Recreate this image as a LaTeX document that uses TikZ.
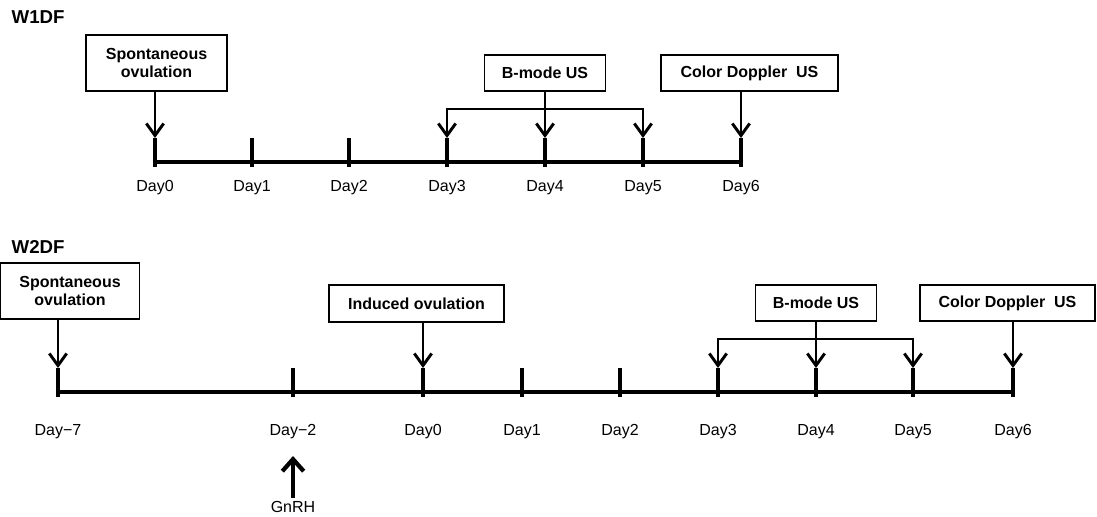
\documentclass[tikz,border=0pt]{standalone}
\usepackage{fontspec}
\setmainfont{Liberation Sans}
\usetikzlibrary{arrows.meta}

\begin{document}
\begin{tikzpicture}[x=0.75pt,y=-0.75pt,
    >={Straight Barb[length=9pt,width=13pt]},
    box/.style={draw,line width=1pt,align=center,inner sep=0pt,
      font=\fontsize{12}{14}\selectfont\bfseries},
    tick/.style={line width=3.2pt},
    arr/.style={->,line width=2.2pt},
    day/.style={font=\fontsize{12}{14}\selectfont},
    title/.style={anchor=west,font=\fontsize{14}{16}\selectfont\bfseries}]
        \useasboundingbox (0,0) rectangle (1097,517);
        % W1DF
        \node[title] (w1) at (7,17) {W1DF};
        % point
        \coordinate (a0) at (155,138);
        \coordinate (a1) at (252,138);
        \coordinate (a2) at (349,138);
        \coordinate (a3) at (447,138);
        \coordinate (a4) at (545,138);
        \coordinate (a5) at (643,138);
        \coordinate (a6) at (741,138);
        \coordinate (k1) at (545,109);
        % node
        \node[box,minimum width=105.75pt,minimum height=42pt] (s1) at (156.5,63) {Spontaneous\\ovulation};
        \node[box,minimum width=90.75pt,minimum height=27pt] (b1) at (545,73) {B-mode US};
        \node[box,minimum width=132.75pt,minimum height=27pt] (c1) at (749.5,73) {Color Doppler~~US};
        \node[day] (l0) at (155,188) {Day0};
        \node[day] (l1) at (252,188) {Day1};
        \node[day] (l2) at (349,188) {Day2};
        \node[day] (l3) at (447,188) {Day3};
        \node[day] (l4) at (545,188) {Day4};
        \node[day] (l5) at (643,188) {Day5};
        \node[day] (l6) at (741,188) {Day6};
        % line
        \draw[tick] ([yshift=-18pt]a0) -- ([yshift=-18pt]a6);
        \draw[tick] (a0) -- ++(0,29);
        \draw[tick] (a1) -- ++(0,29);
        \draw[tick] (a2) -- ++(0,29);
        \draw[tick] (a3) -- ++(0,29);
        \draw[tick] (a4) -- ++(0,29);
        \draw[tick] (a5) -- ++(0,29);
        \draw[tick] (a6) -- ++(0,29);
        \draw[arr] (s1.south -| a0) -- (a0);
        \draw[arr] (b1) -- (a4);
        \draw[arr,<->] (a3) |- (k1) -| (a5);
        \draw[arr] (c1.south -| a6) -- (a6);

        % W2DF
        \node[title] (w2) at (7,247) {W2DF};
        % point
        \coordinate (dm7) at (58,368);
        \coordinate (dm2) at (293,368);
        \coordinate (d0) at (423,368);
        \coordinate (d1) at (522,368);
        \coordinate (d2) at (620,368);
        \coordinate (d3) at (718,368);
        \coordinate (d4) at (816,368);
        \coordinate (d5) at (913,368);
        \coordinate (d6) at (1013,368);
        \coordinate (k2) at (816,339);
        \coordinate (g) at (293,456);
        % node
        \node[box,minimum width=104.25pt,minimum height=42pt] (s2) at (70,291) {Spontaneous\\ovulation};
        \node[box,minimum width=131.25pt,minimum height=27.75pt] (i2) at (416.5,303.5) {Induced ovulation};
        \node[box,minimum width=90.75pt,minimum height=27pt] (b2) at (816,303) {B-mode US};
        \node[box,minimum width=131.25pt,minimum height=27pt] (c2) at (1007.5,303) {Color Doppler~~US};
        \node[day] (m7) at (58,432) {Day−7};
        \node[day] (m2) at (293,432) {Day−2};
        \node[day] (n0) at (423,432) {Day0};
        \node[day] (n1) at (522,432) {Day1};
        \node[day] (n2) at (620,432) {Day2};
        \node[day] (n3) at (718,432) {Day3};
        \node[day] (n4) at (816,432) {Day4};
        \node[day] (n5) at (913,432) {Day5};
        \node[day] (n6) at (1013,432) {Day6};
        \node[day,inner sep=2pt] (gn) at (293,507) {GnRH};
        % line
        \draw[tick] ([yshift=-18pt]dm7) -- ([yshift=-18pt]d6);
        \draw[tick] (dm7) -- ++(0,29);
        \draw[tick] (dm2) -- ++(0,29);
        \draw[tick] (d0) -- ++(0,29);
        \draw[tick] (d1) -- ++(0,29);
        \draw[tick] (d2) -- ++(0,29);
        \draw[tick] (d3) -- ++(0,29);
        \draw[tick] (d4) -- ++(0,29);
        \draw[tick] (d5) -- ++(0,29);
        \draw[tick] (d6) -- ++(0,29);
        \draw[arr] (s2.south -| dm7) -- (dm7);
        \draw[arr] (i2.south -| d0) -- (d0);
        \draw[arr] (b2) -- (d4);
        \draw[arr,<->] (d3) |- (k2) -| (d5);
        \draw[arr] (c2.south -| d6) -- (d6);
        \draw[->,>={Straight Barb[length=9pt,width=16pt]},line width=3.2pt] (gn) -- (g);
\end{tikzpicture}
\end{document}
